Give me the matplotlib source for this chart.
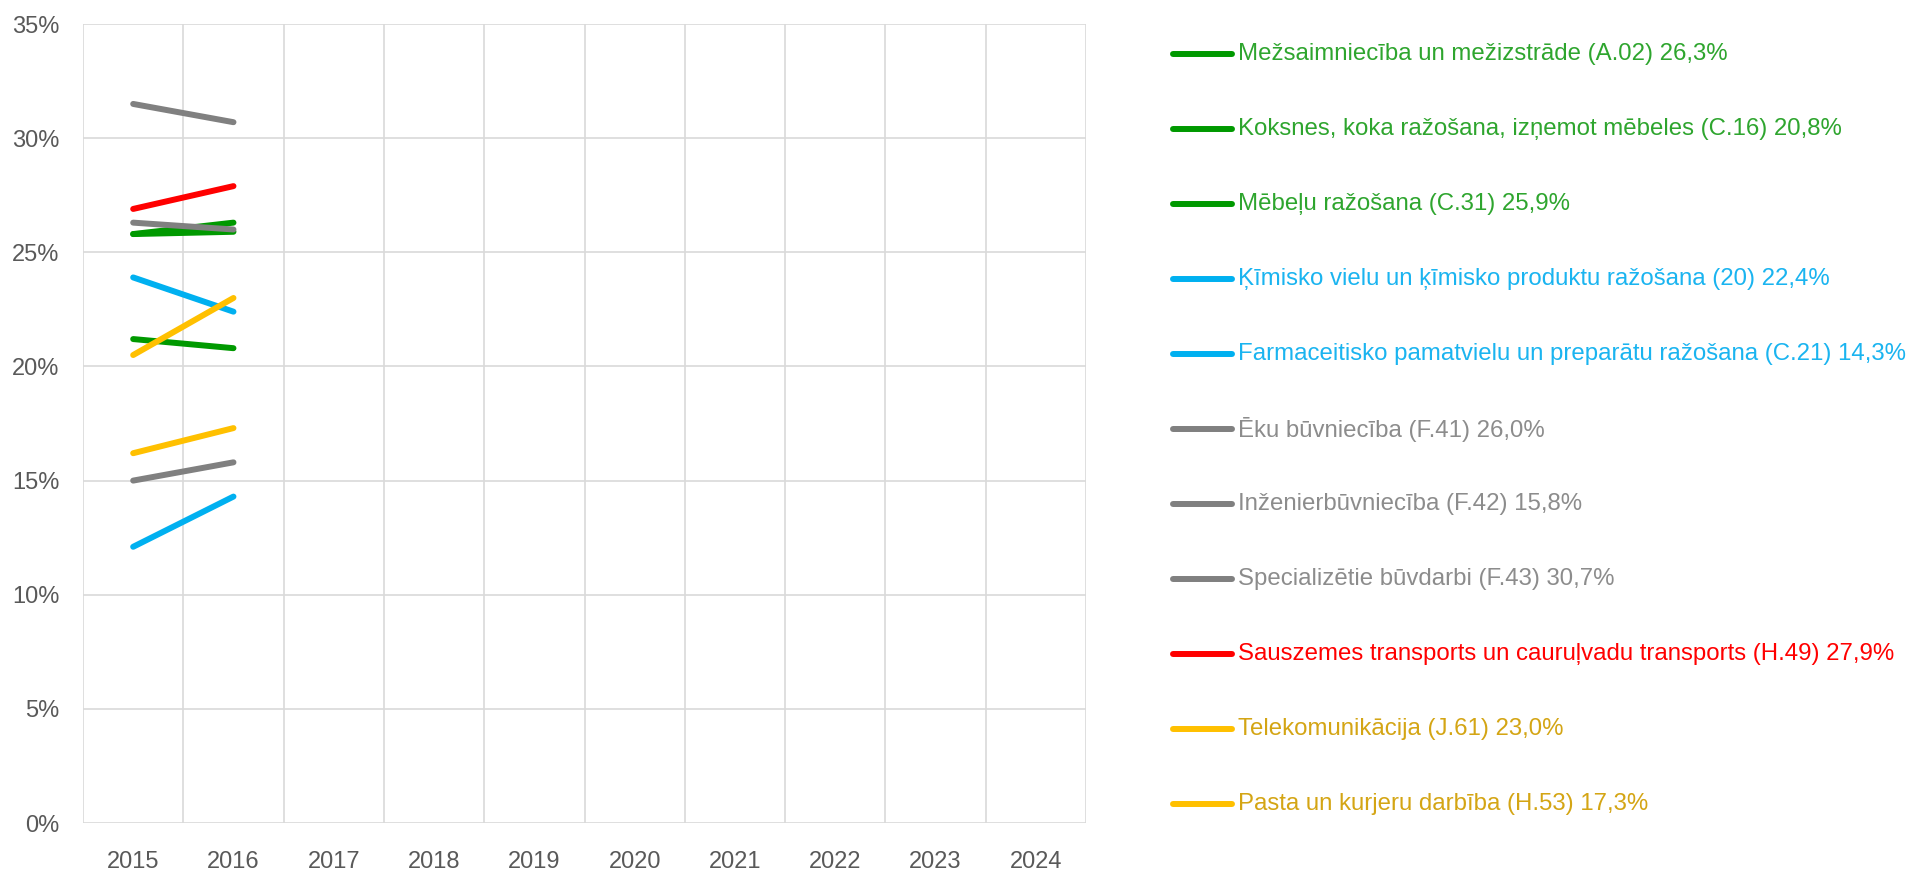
import numpy as np
import matplotlib.pyplot as plt
from matplotlib.lines import Line2D
from matplotlib.ticker import FuncFormatter

plt.rcParams['font.family'] = ['Liberation Sans', 'DejaVu Sans']

years = ['2015', '2016', '2017', '2018', '2019', '2020', '2021', '2022', '2023', '2024']

labels = [
    'Mežsaimniecība un mežizstrāde (A.02) 26,3%',
    'Koksnes, koka ražošana, izņemot mēbeles (C.16) 20,8%',
    'Mēbeļu ražošana (C.31) 25,9%',
    'Ķīmisko vielu un ķīmisko produktu ražošana (20) 22,4%',
    'Farmaceitisko pamatvielu un preparātu ražošana (C.21) 14,3%',
    'Ēku būvniecība (F.41) 26,0%',
    'Inženierbūvniecība (F.42) 15,8%',
    'Specializētie būvdarbi (F.43) 30,7%',
    'Sauszemes transports un cauruļvadu transports (H.49) 27,9%',
    'Telekomunikācija (J.61) 23,0%',
    'Pasta un kurjeru darbība (H.53) 17,3%',
]

# percentages for 2015 and 2016
values = [
    [25.8, 26.3],
    [21.2, 20.8],
    [25.8, 25.9],
    [23.9, 22.4],
    [12.1, 14.3],
    [26.3, 26.0],
    [15.0, 15.8],
    [31.5, 30.7],
    [26.9, 27.9],
    [20.5, 23.0],
    [16.2, 17.3],
]

line_colors = ['#009900', '#009900', '#009900', '#00B0F0', '#00B0F0',
               '#808080', '#808080', '#808080', '#FF0000', '#FFC000', '#FFC000']
text_colors = ['#2EA52E', '#2EA52E', '#2EA52E', '#1AB4F0', '#1AB4F0',
               '#8C8C8C', '#8C8C8C', '#8C8C8C', '#FF0000', '#D4A514', '#D4A514']

W, H = 1913, 871
fig = plt.figure(figsize=(W / 100, H / 100), dpi=100)
ax = fig.add_axes([0.0434, 0.0551, 0.5243, 0.9173])

x = np.arange(len(years))
for vals, c in zip(values, line_colors):
    ax.plot(x[:len(vals)], np.array(vals) / 100, color=c, lw=4.3,
            solid_capstyle='round', zorder=3)

ax.set_xlim(-0.5, len(years) - 0.5)
ax.set_ylim(0, 0.35)
ax.set_yticks(np.arange(0, 0.36, 0.05))
ax.yaxis.set_major_formatter(FuncFormatter(lambda v, p: f'{v * 100:.0f}%'))
ax.set_xticks(x)
ax.set_xticklabels(years)
ax.set_xticks(np.arange(-0.5, len(years), 1), minor=True)

ax.grid(axis='y', which='major', color='#D9D9D9', lw=1.2)
ax.grid(axis='x', which='minor', color='#D9D9D9', lw=1.2)
ax.tick_params(which='both', length=0, labelsize=17, colors='#595959')
ax.tick_params(axis='y', pad=17)
ax.tick_params(axis='x', pad=20)
for s in ax.spines.values():
    s.set_visible(False)

# legend drawn by hand on the right, one row per series
x0, x1, xt = 1173 / W, 1232 / W, 1238 / W
y_first, pitch = 54, 75
texts = []
for i, (lab, lc, tc) in enumerate(zip(labels, line_colors, text_colors)):
    yy = 1 - (y_first + i * pitch) / H
    fig.add_artist(Line2D([x0, x1], [yy, yy], color=lc, lw=4.3,
                          solid_capstyle='round', transform=fig.transFigure))
    texts.append(fig.text(xt, yy, lab, color=tc, fontsize=17, va='center', ha='left'))

# fit the longest label into the space the original uses
r = fig.canvas.get_renderer()
widest = max(t.get_window_extent(r).width for t in texts)
fs = 17 * 668 / widest
for t in texts:
    t.set_fontsize(fs)

fig.savefig('out.png', dpi=100)
